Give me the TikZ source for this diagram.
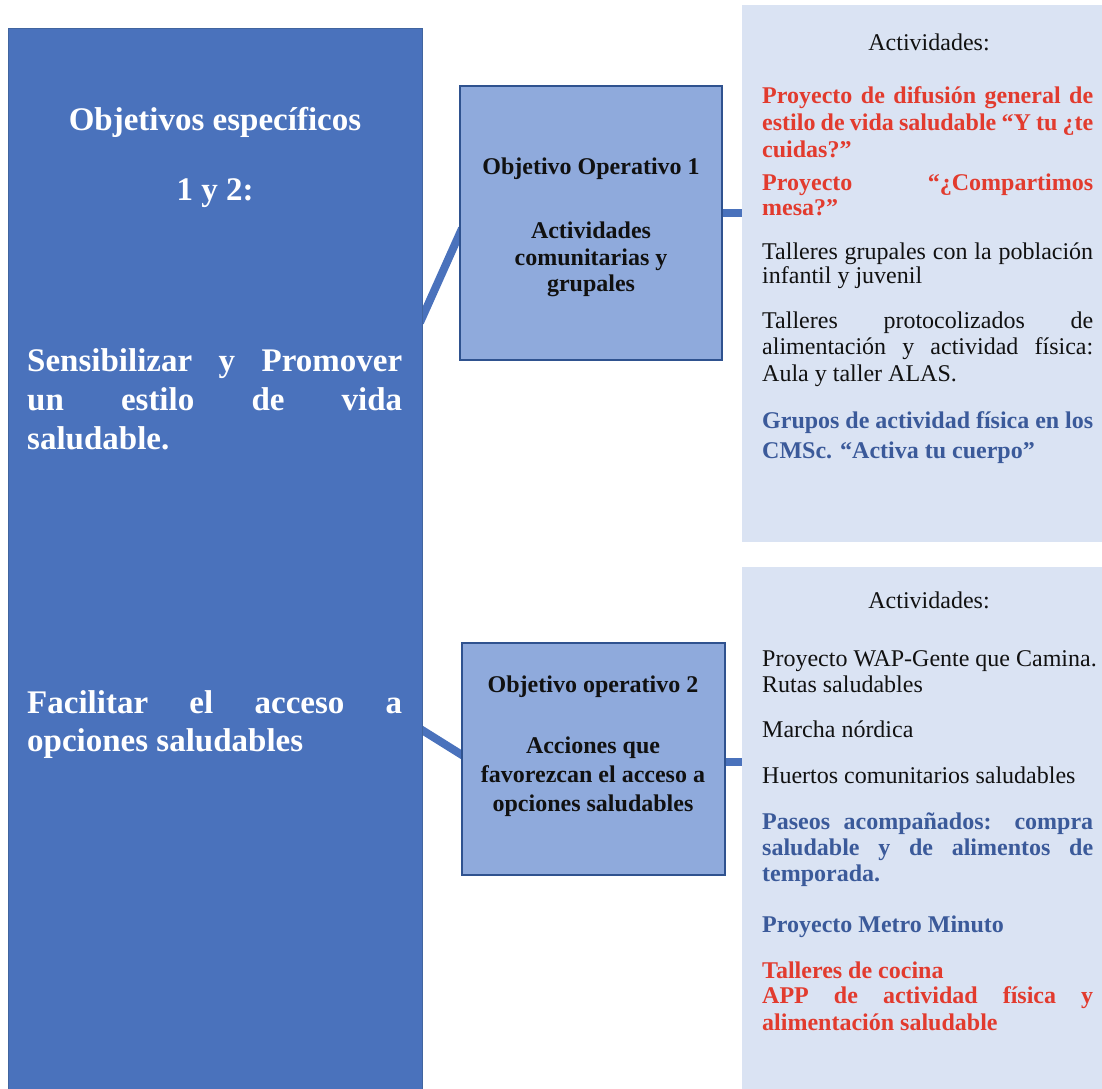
\documentclass[tikz,border=0pt]{standalone}
\usepackage{fontspec}
\setmainfont{Liberation Serif}
\usetikzlibrary{backgrounds}
\definecolor{mainblue}{HTML}{4A72BC}
\definecolor{mainborder}{HTML}{41659F}
\definecolor{opfill}{HTML}{8FAADC}
\definecolor{opborder}{HTML}{2F528F}
\definecolor{actfill}{HTML}{DAE3F3}
\definecolor{redtxt}{HTML}{E23B2E}
\definecolor{bluetxt}{HTML}{3B5A9A}
\definecolor{blacktxt}{HTML}{111111}
\newcommand\jline[2]{\makebox[#1][s]{#2}}
\begin{document}
\begin{tikzpicture}[x=1pt,y=-1pt,
  box/.style={rectangle, anchor=north west, inner sep=0, outer sep=0},
  link/.style={mainblue, line width=8pt, shorten <=-5pt, shorten >=-5pt},
  lt/.style={anchor=base west, inner sep=0, text=white, font=\bfseries\fontsize{33}{38}\selectfont},
  lc/.style={anchor=base, inner sep=0, text=white, font=\bfseries\fontsize{33}{38}\selectfont},
  oc/.style={anchor=base, inner sep=0, text=blacktxt, font=\bfseries\fontsize{24}{28}\selectfont},
  rt/.style={anchor=base west, inner sep=0, text=blacktxt, font=\fontsize{24}{28}\selectfont},
  rc/.style={anchor=base, inner sep=0, text=blacktxt, font=\fontsize{24}{28}\selectfont},
  rr/.style={anchor=base west, inner sep=0, text=redtxt, font=\bfseries\fontsize{24}{28}\selectfont},
  rb/.style={anchor=base west, inner sep=0, text=bluetxt, font=\bfseries\fontsize{24}{28}\selectfont}
]
\useasboundingbox (0,0) rectangle (1102,1088);
\clip (0,0) rectangle (1102,1088);

% boxes
\node[box, fill=mainblue, draw=mainborder, line width=1pt, minimum width=414pt, minimum height=1080pt] (L) at (8,28) {};
\node[box, fill=opfill, draw=opborder, line width=1.3pt, minimum width=262pt, minimum height=274pt] (O1) at (460,86) {};
\node[box, fill=opfill, draw=opborder, line width=1.3pt, minimum width=263pt, minimum height=232pt] (O2) at (462,643) {};
\node[box, fill=actfill, minimum width=370pt, minimum height=537pt] (A1) at (742,5) {};
\node[box, fill=actfill, minimum width=370pt, minimum height=540pt] (A2) at (742,567) {};

% connectors
\begin{scope}[on background layer]
\draw[link] ([yshift=-290pt]L.north east) -- ([yshift=-147pt]O1.north west);
\draw[link] ([yshift=-702pt]L.north east) -- ([yshift=-112pt]O2.north west);
\draw[link] ([yshift=-127pt]O1.north east) -- ([yshift=-208pt]A1.north west);
\draw[link] ([yshift=-119pt]O2.north east) -- ([yshift=-195pt]A2.north west);
\end{scope}

% left box text
\node[lc] (lh1) at (215,130) {Objetivos específicos};
\node[lc] (lh2) at (215,200) {1 y 2:};
\node[lt] (ls1) at (27,371) {\jline{375pt}{Sensibilizar y Promover}};
\node[lt] (ls2) at (27,410) {\jline{375pt}{un estilo de vida}};
\node[lt] (ls3) at (27,449) {saludable.};
\node[lt] (lf1) at (27,713) {\jline{375pt}{Facilitar el acceso a}};
\node[lt] (lf2) at (27,751) {opciones saludables};

% operative objective 1
\node[oc] (o1t) at (591,174) {Objetivo Operativo 1};
\node[oc] (o1a) at (591,238) {Actividades};
\node[oc] (o1b) at (591,265) {comunitarias y};
\node[oc] (o1c) at (591,291) {grupales};

% operative objective 2
\node[oc] (o2t) at (593,692) {Objetivo operativo 2};
\node[oc] (o2a) at (593,753) {Acciones que};
\node[oc] (o2b) at (593,782) {favorezcan el acceso a};
\node[oc] (o2c) at (593,811) {opciones saludables};

% activities 1
\node[rc] (a1t) at (929,50) {Actividades:};
\node[rr] (a1p1) at (762,103) {\jline{331pt}{Proyecto de difusión general de}};
\node[rr] (a1p2) at (762,130) {\jline{331pt}{estilo de vida saludable “Y tu ¿te}};
\node[rr] (a1p3) at (762,157) {cuidas?”};
\node[rr] (a1q1) at (762,190) {\jline{331pt}{Proyecto “¿Compartimos}};
\node[rr] (a1q2) at (762,215) {mesa?”};
\node[rt] (a1r1) at (762,259) {\jline{331pt}{Talleres grupales con la población}};
\node[rt] (a1r2) at (762,283) {infantil y juvenil};
\node[rt] (a1s1) at (762,328) {\jline{331pt}{Talleres protocolizados de}};
\node[rt] (a1s2) at (762,354) {\jline{331pt}{alimentación y actividad física:}};
\node[rt] (a1s3) at (762,381) {Aula y taller ALAS.};
\node[rb] (a1u1) at (762,428) {\jline{331pt}{Grupos de actividad física en los}};
\node[rb] (a1u2) at (762,458) {CMSc. “Activa tu cuerpo”};

% activities 2
\node[rc] (a2t) at (929,608) {Actividades:};
\node[rt] (a2p1) at (762,666) {Proyecto WAP-Gente que Camina.};
\node[rt] (a2p2) at (762,692) {Rutas saludables};
\node[rt] (a2m) at (762,737) {Marcha nórdica};
\node[rt] (a2h) at (762,783) {Huertos comunitarios saludables};
\node[rb] (a2s1) at (762,829) {\jline{331pt}{Paseos acompañados: compra}};
\node[rb] (a2s2) at (762,855) {\jline{331pt}{saludable y de alimentos de}};
\node[rb] (a2s3) at (762,881) {temporada.};
\node[rb] (a2mm) at (762,932) {Proyecto Metro Minuto};
\node[rr] (a2c1) at (762,978) {Talleres de cocina};
\node[rr] (a2c2) at (762,1003) {\jline{331pt}{APP de actividad física y}};
\node[rr] (a2c3) at (762,1030) {alimentación saludable};
\end{tikzpicture}
\end{document}
